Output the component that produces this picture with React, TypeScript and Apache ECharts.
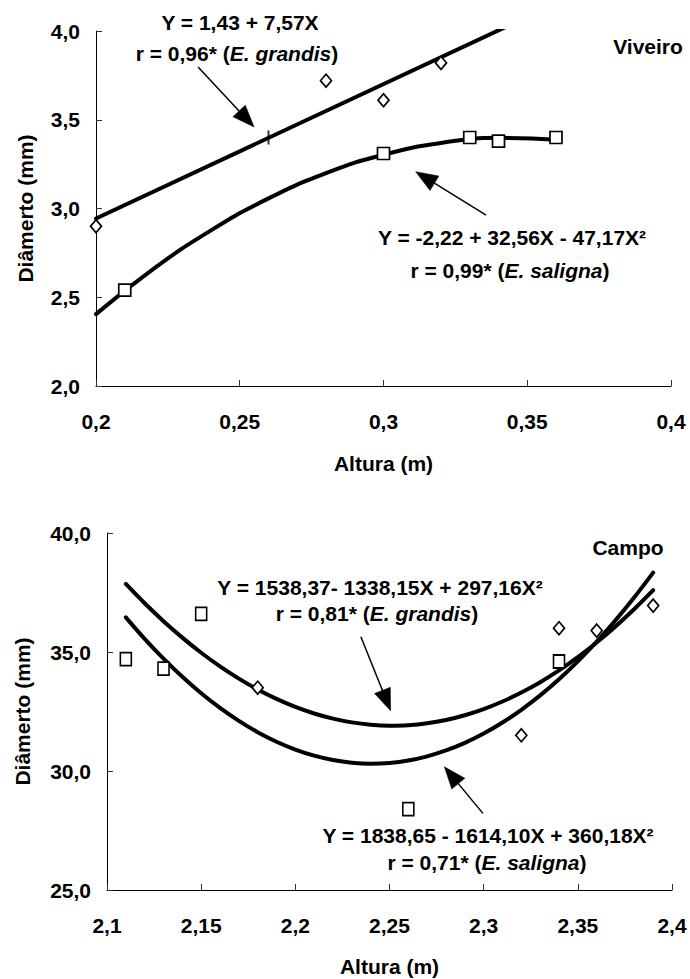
import React, { useEffect, useRef } from 'react';
import * as echarts from 'echarts';

// ---------- Viveiro (top) ----------
const viveiroXTicks = [0.2, 0.25, 0.3, 0.35, 0.4];
const viveiroYTicks = [2.0, 2.5, 3.0, 3.5, 4.0];
const grandisViveiroX = [0.2, 0.28, 0.3, 0.32];
const grandisViveiroY = [2.9, 3.72, 3.61, 3.82];
const grandisViveiroTickX = [0.26];
const grandisViveiroTickY = [3.4];
const salignaViveiroX = [0.21, 0.3, 0.33, 0.34, 0.36];
const salignaViveiroY = [2.54, 3.31, 3.4, 3.38, 3.4];
const grandisViveiroFitX = [0.2, 0.36];
const grandisViveiroFitY = [2.944, 4.155];
const salignaViveiroFitX = [0.2, 0.22, 0.24, 0.26, 0.28, 0.3, 0.32, 0.34, 0.36];
const salignaViveiroFitY = [2.405, 2.66, 2.877, 3.057, 3.199, 3.303, 3.369, 3.398, 3.388];

// ---------- Campo (bottom) ----------
const campoXTicks = [2.1, 2.15, 2.2, 2.25, 2.3, 2.35, 2.4];
const campoYTicks = [25, 30, 35, 40];
const grandisCampoX = [2.18, 2.32, 2.34, 2.36, 2.39];
const grandisCampoY = [33.5, 31.5, 36.0, 35.9, 36.95];
const salignaCampoX = [2.11, 2.13, 2.15, 2.26, 2.34];
const salignaCampoY = [34.7, 34.3, 36.6, 28.4, 34.6];
const campoFitX = [
  2.11, 2.12, 2.13, 2.14, 2.15, 2.16, 2.17, 2.18, 2.19, 2.2,
  2.21, 2.22, 2.23, 2.24, 2.25, 2.26, 2.27, 2.28, 2.29, 2.3,
  2.31, 2.32, 2.33, 2.34, 2.35, 2.36, 2.37, 2.38, 2.39,
];
const grandisCampoFitY = [
  37.859, 37.048, 36.295, 35.603, 34.969, 34.396, 33.881, 33.426, 33.03, 32.694,
  32.417, 32.2, 32.042, 31.944, 31.905, 31.925, 32.005, 32.144, 32.343, 32.601,
  32.919, 33.296, 33.732, 34.228, 34.783, 35.398, 36.072, 36.806, 37.599,
];
const salignaCampoFitY = [
  36.456, 35.551, 34.718, 33.956, 33.267, 32.65, 32.105, 31.631, 31.23, 30.901,
  30.644, 30.459, 30.346, 30.305, 30.336, 30.439, 30.615, 30.862, 31.181, 31.572,
  32.036, 32.571, 33.178, 33.858, 34.609, 35.433, 36.328, 37.296, 38.335,
];

// annotation arrows (data units)
const arrowGrid = [0, 0, 1, 1];
const arrowStartX = [0.2355, 0.3357, 2.2348, 2.2996];
const arrowStartY = [3.797, 2.963, 35.64, 28.22];
const arrowTipX = [0.255, 0.3112, 2.2506, 2.2791];
const arrowTipY = [3.459, 3.207, 32.53, 30.18];

const FONT = "'Liberation Sans', Arial, Helvetica, sans-serif";
const FS = 21;
const zip = (xs: number[], ys: number[]) => xs.map((x, i) => [x, ys[i]]);

const fmtX = (v: number) => String(parseFloat(v.toFixed(2))).replace('.', ',');
const fmtY = (v: number) => v.toFixed(1).replace('.', ',');

function makeX(gridIndex: number, min: number, max: number, nameGap: number) {
  return {
    type: 'value',
    gridIndex,
    min,
    max,
    interval: 0.05,
    name: 'Altura (m)',
    nameLocation: 'middle',
    nameGap,
    nameTextStyle: { color: '#000', fontSize: FS, fontWeight: 'bold', fontFamily: FONT },
    axisLine: { show: true, onZero: false, lineStyle: { color: '#000', width: 1 } },
    axisTick: { show: true, inside: true, length: 6, lineStyle: { color: '#333', width: 1 } },
    splitLine: { show: false },
    axisLabel: {
      color: '#000', fontSize: FS, fontWeight: 'bold', fontFamily: FONT, margin: 25,
      formatter: fmtX,
    },
  };
}

function makeY(gridIndex: number, min: number, max: number, interval: number, nameGap: number) {
  return {
    type: 'value',
    gridIndex,
    min,
    max,
    interval,
    name: 'Diâmerto (mm)',
    nameLocation: 'middle',
    nameGap,
    nameTextStyle: { color: '#000', fontSize: FS, fontWeight: 'bold', fontFamily: FONT },
    axisLine: { show: true, onZero: false, lineStyle: { color: '#000', width: 1 } },
    axisTick: { show: true, inside: true, length: 6, lineStyle: { color: '#333', width: 1 } },
    splitLine: { show: false },
    axisLabel: {
      color: '#000', fontSize: FS, fontWeight: 'bold', fontFamily: FONT, margin: 16,
      formatter: fmtY,
    },
  };
}

const fitLine = (name: string, gi: number, data: number[][], smooth: any) => ({
  name,
  type: 'line',
  xAxisIndex: gi,
  yAxisIndex: gi,
  data,
  smooth,
  showSymbol: false,
  symbol: 'none',
  clip: true,
  z: 2,
  lineStyle: { color: '#000', width: 4, join: 'round', cap: 'round' },
  emphasis: { disabled: true },
});

const scatter = (name: string, gi: number, data: number[][], symbol: string, size: number[], extra: any = {}) => ({
  name,
  type: 'scatter',
  xAxisIndex: gi,
  yAxisIndex: gi,
  data,
  symbol,
  symbolSize: size,
  z: 5,
  itemStyle: { color: '#fff', borderColor: '#000', borderWidth: 1.7, opacity: 1 },
  emphasis: { disabled: true },
  ...extra,
});

const bold = { fontSize: FS, fontWeight: 'bold', fontFamily: FONT, fill: '#000' };
const ital = { fontSize: FS, fontWeight: 'bold', fontStyle: 'italic', fontFamily: FONT, fill: '#000' };

const textEl = (x: number, y: number, text: string) => ({
  type: 'text',
  x,
  y,
  z: 10,
  style: {
    text,
    rich: { b: bold, i: ital },
    ...bold,
    align: 'center',
    verticalAlign: 'middle',
  },
});

export default function App() {
  const ref = useRef<HTMLDivElement>(null);

  useEffect(() => {
    if (!ref.current) return;
    const chart = echarts.init(ref.current, null, { renderer: 'svg' });
    const option: any = {
      animation: false,
      backgroundColor: '#fff',
      grid: [
        { left: 96, top: 31, width: 575, height: 355 },
        { left: 107, top: 533, width: 565, height: 357 },
      ],
      xAxis: [makeX(0, viveiroXTicks[0], viveiroXTicks[viveiroXTicks.length - 1], 67),
              makeX(1, campoXTicks[0], campoXTicks[campoXTicks.length - 1], 66)],
      yAxis: [makeY(0, viveiroYTicks[0], viveiroYTicks[viveiroYTicks.length - 1], 0.5, 60),
              makeY(1, campoYTicks[0], campoYTicks[campoYTicks.length - 1], 5, 74)],
      series: [
        fitLine('E. grandis ajuste (Viveiro)', 0, zip(grandisViveiroFitX, grandisViveiroFitY), false),
        fitLine('E. saligna ajuste (Viveiro)', 0, zip(salignaViveiroFitX, salignaViveiroFitY), true),
        scatter('E. grandis (Viveiro)', 0, zip(grandisViveiroX, grandisViveiroY), 'diamond', [11, 13]),
        scatter('E. grandis marca (Viveiro)', 0, zip(grandisViveiroTickX, grandisViveiroTickY), 'rect', [2, 14],
          { itemStyle: { color: '#000', borderWidth: 0 } }),
        scatter('E. saligna (Viveiro)', 0, zip(salignaViveiroX, salignaViveiroY), 'rect', [12, 12]),
        fitLine('E. grandis ajuste (Campo)', 1, zip(campoFitX, grandisCampoFitY), 0.3),
        fitLine('E. saligna ajuste (Campo)', 1, zip(campoFitX, salignaCampoFitY), 0.3),
        scatter('E. grandis (Campo)', 1, zip(grandisCampoX, grandisCampoY), 'diamond', [11, 13]),
        scatter('E. saligna (Campo)', 1, zip(salignaCampoX, salignaCampoY), 'rect', [11, 13]),
      ],
    };
    chart.setOption(option);

    const graphics: any[] = [
      textEl(240, 22, '{b|Y = 1,43 + 7,57X}'),
      textEl(237, 53, '{b|r = 0,96* (}{i|E. grandis}{b|)}'),
      textEl(648, 46, '{b|Viveiro}'),
      textEl(512, 237, '{b|Y = -2,22 + 32,56X - 47,17X²}'),
      textEl(510, 270, '{b|r = 0,99* (}{i|E. saligna}{b|)}'),
      textEl(628, 547, '{b|Campo}'),
      textEl(380, 587, '{b|Y = 1538,37- 1338,15X + 297,16X²}'),
      textEl(377, 613, '{b|r = 0,81* (}{i|E. grandis}{b|)}'),
      textEl(488, 835, '{b|Y = 1838,65 - 1614,10X + 360,18X²}'),
      textEl(487, 862, '{b|r = 0,71* (}{i|E. saligna}{b|)}'),
    ];

    const L = 22;
    const W = 8.5;
    arrowGrid.forEach((g, i) => {
      const s = chart.convertToPixel({ gridIndex: g } as any, [arrowStartX[i], arrowStartY[i]]) as number[];
      const t = chart.convertToPixel({ gridIndex: g } as any, [arrowTipX[i], arrowTipY[i]]) as number[];
      const dx = t[0] - s[0];
      const dy = t[1] - s[1];
      const len = Math.hypot(dx, dy);
      const ux = dx / len;
      const uy = dy / len;
      const bx = t[0] - L * ux;
      const by = t[1] - L * uy;
      graphics.push({
        type: 'line',
        z: 9,
        shape: { x1: s[0], y1: s[1], x2: bx + 2 * ux, y2: by + 2 * uy },
        style: { stroke: '#000', lineWidth: 1.5 },
      });
      graphics.push({
        type: 'polygon',
        z: 9,
        shape: {
          points: [
            [t[0], t[1]],
            [bx - W * uy, by + W * ux],
            [bx + W * uy, by - W * ux],
          ],
        },
        style: { fill: '#000', stroke: '#000', lineWidth: 0.5 },
      });
    });

    chart.setOption({ graphic: graphics });
    return () => chart.dispose();
  }, []);

  return (
    <div
      ref={ref}
      style={{ position: 'fixed', left: 0, top: 0, width: 690, height: 979, background: '#fff' }}
    />
  );
}
